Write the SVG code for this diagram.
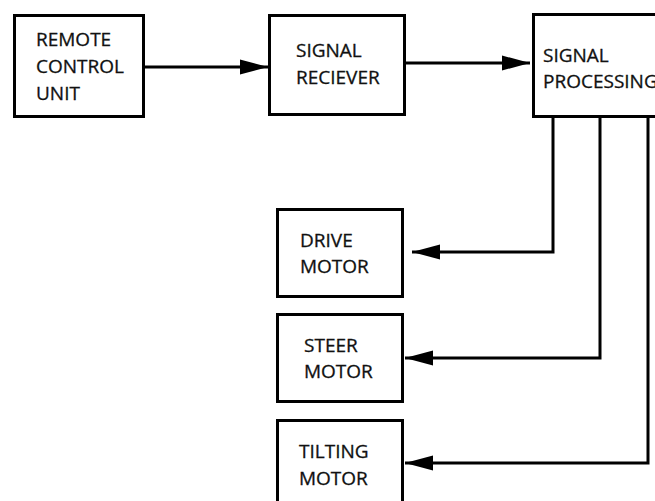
<svg xmlns="http://www.w3.org/2000/svg" width="655" height="501" viewBox="0 0 655 501">
  <style>
    .box { fill: #ffffff; stroke: #000000; stroke-width: 3; }
    .lbl { font-family: "Open Sans", "Noto Sans", sans-serif; font-size: 19px; fill: #111111; stroke: #111111; stroke-width: 0.3; }
    .wire { fill: none; stroke: #000000; stroke-width: 3; }
  </style>
  <defs>
    <marker id="head" markerUnits="userSpaceOnUse" markerWidth="30" markerHeight="18" refX="28" refY="8" orient="auto">
      <path d="M0,0.5 L28,8 L0,15.5 Z" fill="#000000"/>
    </marker>
  </defs>

  <rect width="655" height="501" fill="#ffffff"/>

  <g id="connectors">
    <path class="wire" d="M145,67 H268" marker-end="url(#head)"/>
    <path class="wire" d="M405,63 H530" marker-end="url(#head)"/>
    <path class="wire" d="M553,117 V252 H412" marker-end="url(#head)"/>
    <path class="wire" d="M600,117 V358 H405" marker-end="url(#head)"/>
    <path class="wire" d="M648,117 V463 H405" marker-end="url(#head)"/>
  </g>

  <g id="remote-control-unit">
    <rect class="box" x="14.5" y="15.5" width="129" height="101"/>
    <text class="lbl" x="36" y="46">REMOTE</text>
    <text class="lbl" x="36" y="73">CONTROL</text>
    <text class="lbl" x="36" y="100">UNIT</text>
  </g>

  <g id="signal-receiver">
    <rect class="box" x="269.5" y="15.5" width="135" height="99"/>
    <text class="lbl" x="296" y="57">SIGNAL</text>
    <text class="lbl" x="296" y="84">RECIEVER</text>
  </g>

  <g id="signal-processing">
    <rect class="box" x="533.5" y="14.5" width="130" height="102"/>
    <text class="lbl" x="543" y="62">SIGNAL</text>
    <text class="lbl" x="543" y="88">PROCESSING</text>
  </g>

  <g id="drive-motor">
    <rect class="box" x="277.5" y="209.5" width="125" height="87"/>
    <text class="lbl" x="300" y="247">DRIVE</text>
    <text class="lbl" x="300" y="273">MOTOR</text>
  </g>

  <g id="steer-motor">
    <rect class="box" x="277.5" y="314.5" width="125" height="87"/>
    <text class="lbl" x="304" y="352">STEER</text>
    <text class="lbl" x="304" y="378">MOTOR</text>
  </g>

  <g id="tilting-motor">
    <rect class="box" x="277.5" y="420.5" width="125" height="90"/>
    <text class="lbl" x="299" y="458">TILTING</text>
    <text class="lbl" x="299" y="485">MOTOR</text>
  </g>
</svg>
